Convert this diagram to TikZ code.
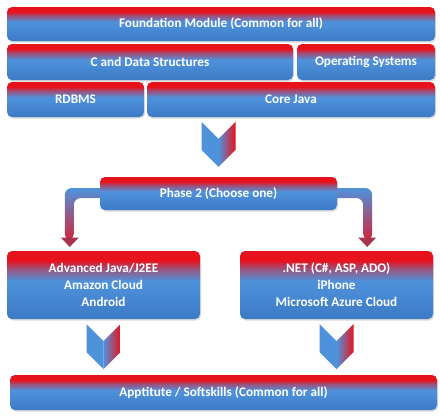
\documentclass[tikz,border=0pt]{standalone}
\usepackage{fontspec}
\setmainfont{Carlito}
\usetikzlibrary{shadows,calc,backgrounds}

\definecolor{modblue}{RGB}{79,146,220}
\definecolor{modblued}{RGB}{60,122,196}
\definecolor{modred}{RGB}{232,18,28}
\pgfdeclareverticalshading{modshade}{100bp}{color(0bp)=(modblued); color(25bp)=(modblued);
  color(53bp)=(modblue); color(62bp)=(modred!50!modblue); color(68bp)=(modred); color(100bp)=(modred)}

\tikzset{
  chevron/.pic={
    \fill[modblue] (-17,-45) -- (0,-28) -- (0,0) -- (-17,-17) -- cycle;
    \shade[left color=modblue, right color=modred] (0,-28) -- (17,-45) -- (17,-17) -- (0,0) -- cycle;
  },
  elbow/.pic={
    \shade[top color=modblue, bottom color=modred!85!modblue, rounded corners=7pt]
      (6,-5.5) -- (-35,-5.5) -- (-35,47) -- (-26,47) -- (-26,4.5) -- (6,4.5) -- cycle;
    \fill[modred!70!modblue!90!black] (-39,44) -- (-21,44) -- (-30,53.5) -- cycle;
  }
}

\begin{document}
\begin{tikzpicture}[
    x=1pt, y=-1pt,
    module/.style={rounded corners=5pt, shading=modshade, text=white,
      font=\bfseries\fontsize{13.2}{17}\selectfont, align=center, inner sep=0pt,
      drop shadow={shadow xshift=1pt, shadow yshift=-1.5pt, opacity=.3}}
  ]
  \useasboundingbox (0,0) rectangle (440,418);

  % foundation stack
  \node[module, minimum width=428pt, minimum height=34pt] (found) at (221,24) {Foundation Module (Common for all)};
  \node[module, minimum width=286pt, minimum height=36pt] (cds) at (150,62) {C and Data Structures};
  \node[module, minimum width=138pt, minimum height=36pt] (os) at (366,62) {Operating Systems};
  \node[module, minimum width=137pt, minimum height=35pt] (rdbms) at (75.5,99.5) {RDBMS};
  \node[module, minimum width=288pt, minimum height=35pt] (corej) at (291,99.5) {Core Java};

  % phase 2
  \node[module, minimum width=237pt, minimum height=33pt] (phase) at (218.5,193.5) {Phase 2 (Choose one)};
  \pic at ($(phase.north)+(0,-10)$) {chevron};

  \node[module, minimum width=193pt, minimum height=68pt] (adv) at (103.5,285) {Advanced Java/J2EE\\Amazon Cloud\\Android};
  \node[module, minimum width=193pt, minimum height=68pt] (net) at (336.5,285) {.NET (C\#, ASP, ADO)\\iPhone\\Microsoft Azure Cloud};

  \begin{scope}[on background layer]
    \pic at (phase.west) {elbow};
    \pic[xscale=-1] at (phase.east) {elbow};
  \end{scope}

  \node[module, minimum width=427pt, minimum height=35pt] (soft) at (223.5,392.5) {Apptitute / Softskills (Common for all)};
  \pic at ($(adv.south)+(0,50)$) {chevron};
  \pic at ($(net.south)+(0,50)$) {chevron};
\end{tikzpicture}
\end{document}
